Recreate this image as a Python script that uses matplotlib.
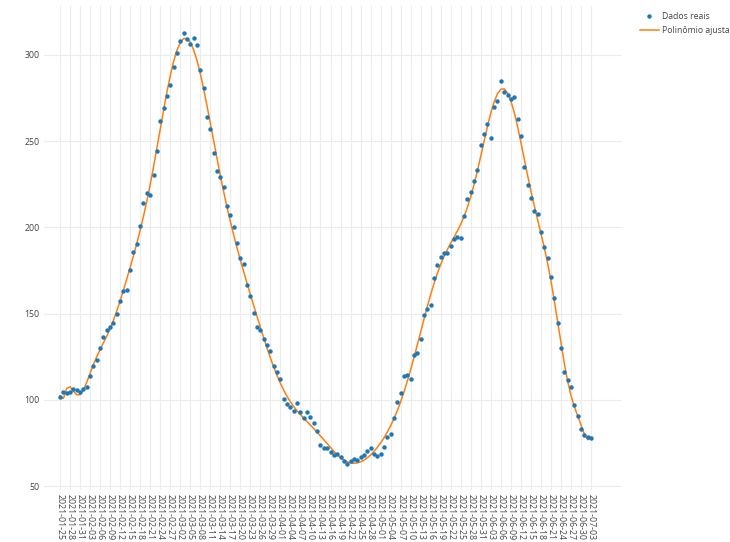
import numpy as np
import pandas as pd
import matplotlib
matplotlib.use('Agg')
import matplotlib.pyplot as plt
from matplotlib.lines import Line2D

# daily series, starting at 2021-01-25
data_inicio = '2021-01-25'
casos = [101.4, 104.3, 103.8, 104.7, 106.3, 105.7, 104.7, 106.0, 107.6, 113.6,
         119.4, 122.8, 130.0, 136.3, 140.7, 142.4, 144.7, 150.0, 157.1, 163.0,
         163.9, 175.1, 185.7, 190.2, 201.0, 214.3, 220.1, 218.6, 230.4, 244.1,
         261.9, 269.3, 276.2, 282.6, 293.2, 301.0, 308.1, 312.8, 309.1, 306.6,
         309.7, 305.8, 291.3, 280.7, 264.2, 257.1, 243.2, 232.9, 229.4, 223.6,
         212.4, 207.2, 200.4, 191.1, 182.4, 179.0, 166.6, 160.0, 150.6, 142.4,
         140.5, 135.5, 131.6, 128.1, 119.4, 116.1, 111.9, 100.5, 97.8, 96.1,
         93.5, 98.1, 93.1, 89.3, 92.7, 90.0, 86.4, 81.9, 74.0, 72.3,
         71.9, 69.7, 68.0, 68.8, 66.7, 64.7, 62.6, 64.7, 65.7, 65.3,
         66.7, 68.2, 70.1, 72.3, 68.4, 67.4, 68.8, 72.6, 78.4, 80.0,
         89.3, 98.7, 103.8, 113.8, 114.6, 112.3, 126.2, 127.1, 135.1, 149.0,
         152.5, 154.8, 170.8, 178.4, 183.0, 185.4, 185.0, 189.4, 193.1, 194.4,
         194.0, 206.6, 216.7, 220.4, 227.1, 233.3, 248.0, 254.4, 260.2, 252.1,
         269.7, 273.1, 284.9, 278.5, 277.0, 274.3, 275.5, 263.1, 253.0, 235.2,
         224.6, 217.1, 209.5, 208.0, 197.6, 188.8, 182.0, 171.2, 158.9, 144.4,
         130.0, 116.4, 111.3, 107.7, 97.0, 90.6, 82.9, 79.8, 78.4, 77.7]
grau = 26
y_ticks = [50, 100, 150, 200, 250, 300]

datas = pd.date_range(data_inicio, periods=len(casos), freq='D')
dias = np.arange(len(casos))

# polynomial fit over the day index
poli = np.polynomial.Polynomial.fit(dias, casos, grau)
ajuste = poli(dias)

plt.rcParams['font.family'] = ['Open Sans', 'DejaVu Sans']
fs = 6.3
azul = '#1f77b4'
laranja = '#ff7f0e'
grid_cor = '#ececec'
texto_cor = '#444444'

fig = plt.figure(figsize=(7.3, 5.42), dpi=100)
ax = fig.add_axes([44 / 730, 1 - 490 / 542, (622 - 44) / 730, (490 - 6) / 542])

ax.plot(datas, ajuste, color=laranja, lw=1.1, zorder=2)
ax.plot(datas, casos, 'o', color=azul, markersize=3.2, markeredgewidth=0, zorder=3)

px_dia = (591 - 60) / 159
ax.set_xlim(datas[0] - pd.Timedelta(days=16 / px_dia), datas[0] + pd.Timedelta(days=(622 - 60) / px_dia))
y_px = 86.2 / 50
ax.set_ylim(300 - (490 - 55) / y_px, 300 + (55 - 6) / y_px)

tick_datas = datas[::3]
ax.set_xticks(tick_datas)
ax.set_xticklabels([d.strftime('%Y-%m-%d') for d in tick_datas], rotation=-90,
                   fontsize=fs, color=texto_cor, va='top', ha='center')
ax.set_yticks(y_ticks)
ax.set_yticklabels([str(v) for v in y_ticks], fontsize=fs, color=texto_cor)

ax.grid(True, color=grid_cor, lw=0.8)
ax.set_axisbelow(True)
ax.tick_params(length=0, pad=3)
for s in ax.spines.values():
    s.set_visible(False)

handles = [Line2D([], [], marker='o', ls='none', color=azul, markersize=3.2, markeredgewidth=0),
           Line2D([], [], color=laranja, lw=1.1)]
fig.legend(handles, ['Dados reais', 'Polinômio ajustado'], loc='upper left',
           bbox_to_anchor=(637 / 730, 1 - 9 / 542), frameon=False, fontsize=6.2,
           handlelength=2.1, handletextpad=0.4, labelspacing=0.5, borderaxespad=0,
           labelcolor=texto_cor)

fig.savefig('out.png', dpi=100)
